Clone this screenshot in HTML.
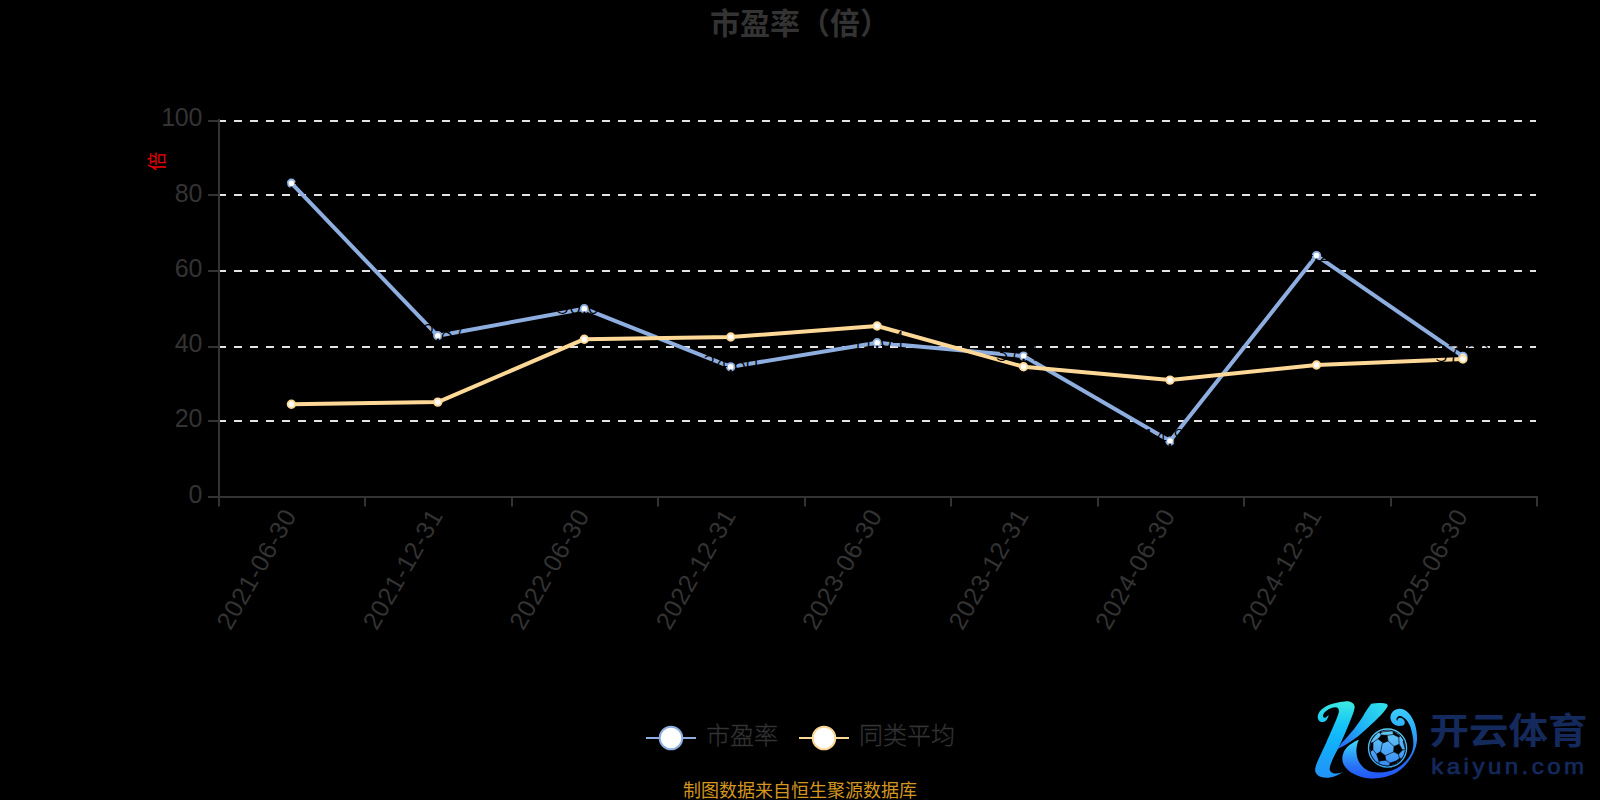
<!DOCTYPE html>
<html lang="zh-CN">
<head>
<meta charset="utf-8">
<title>市盈率（倍）</title>
<style>
html,body{margin:0;padding:0;background:#000;}
body{width:1600px;height:800px;overflow:hidden;position:relative;font-family:"Liberation Sans","Noto Sans CJK SC",sans-serif;}
svg{position:absolute;left:0;top:0;display:block;}
text{font-family:"Liberation Sans","Noto Sans CJK SC",sans-serif;}
.cjk{font-family:"Noto Sans CJK SC","Liberation Sans",sans-serif;}
</style>
</head>
<body>
<svg width="1600" height="800" viewBox="0 0 1600 800">
<defs>
<linearGradient id="gk" gradientUnits="userSpaceOnUse" x1="0" y1="701" x2="0" y2="778">
<stop offset="0" stop-color="#3debe0"/><stop offset="0.3" stop-color="#16c6f8"/><stop offset="0.55" stop-color="#12b0fa"/><stop offset="0.8" stop-color="#1c9ef9"/><stop offset="1" stop-color="#2292f9"/>
</linearGradient>
<linearGradient id="gleg" gradientUnits="userSpaceOnUse" x1="0" y1="739" x2="0" y2="778">
<stop offset="0" stop-color="#40dcfa"/><stop offset="0.35" stop-color="#30a8f8"/><stop offset="0.7" stop-color="#2872f6"/><stop offset="1" stop-color="#2258f5"/>
</linearGradient>
<linearGradient id="gcres" gradientUnits="userSpaceOnUse" x1="0" y1="709" x2="0" y2="778">
<stop offset="0" stop-color="#3ccdfb"/><stop offset="0.3" stop-color="#2daaf9"/><stop offset="0.55" stop-color="#2888f6"/><stop offset="0.8" stop-color="#2466f5"/><stop offset="1" stop-color="#2258f5"/>
</linearGradient>
<linearGradient id="garm" gradientUnits="userSpaceOnUse" x1="1384" y1="704" x2="1338" y2="749">
<stop offset="0" stop-color="#2fe0ea"/><stop offset="0.5" stop-color="#1fb2f6"/><stop offset="1" stop-color="#2a63f4"/>
</linearGradient>
<linearGradient id="gballz" gradientUnits="userSpaceOnUse" x1="0" y1="120" x2="0" y2="710">
<stop offset="0" stop-color="#66ccf8"/><stop offset="1" stop-color="#388af6"/>
</linearGradient>
<linearGradient id="gring" gradientUnits="userSpaceOnUse" x1="0" y1="90" x2="0" y2="745">
<stop offset="0" stop-color="#5ccaf9"/><stop offset="1" stop-color="#35a8f6"/>
</linearGradient>
</defs>
<rect x="0" y="0" width="1600" height="800" fill="#000000"/>
<text class="cjk" x="800" y="33.5" text-anchor="middle" font-size="30" font-weight="700" fill="#333333">市盈率（倍）</text>
<line x1="218" y1="121" x2="1536" y2="121" stroke="#e4e4e4" stroke-width="2" stroke-dasharray="8 8"/>
<line x1="218" y1="195" x2="1536" y2="195" stroke="#e4e4e4" stroke-width="2" stroke-dasharray="8 8"/>
<line x1="218" y1="271" x2="1536" y2="271" stroke="#e4e4e4" stroke-width="2" stroke-dasharray="8 8"/>
<line x1="218" y1="347" x2="1536" y2="347" stroke="#e4e4e4" stroke-width="2" stroke-dasharray="8 8"/>
<line x1="218" y1="421" x2="1536" y2="421" stroke="#e4e4e4" stroke-width="2" stroke-dasharray="8 8"/>
<text class="cjk" transform="translate(157,161.3) rotate(-90)" text-anchor="middle" font-size="19" fill="#e60000" dy="6.9">倍</text>
<polyline points="291.4,183.2 437.8,335.8 584.3,308.7 730.7,366.9 877.1,342.7 1023.6,356.1 1170.0,441.1 1316.5,255.6 1462.9,356.4" fill="none" stroke="#8eaee0" stroke-width="4" stroke-linejoin="bevel"/>
<polyline points="291.4,404.2 437.8,402.1 584.3,339.2 730.7,337.0 877.1,326.0 1023.6,366.8 1170.0,380.1 1316.5,365.0 1462.9,359.0" fill="none" stroke="#fdd897" stroke-width="4" stroke-linejoin="bevel"/>
<circle cx="291.4" cy="183.2" r="3.75" fill="#ffffff" stroke="#8eaee0" stroke-width="1.9"/>
<circle cx="437.8" cy="335.8" r="3.75" fill="#ffffff" stroke="#8eaee0" stroke-width="1.9"/>
<circle cx="584.3" cy="308.7" r="3.75" fill="#ffffff" stroke="#8eaee0" stroke-width="1.9"/>
<circle cx="730.7" cy="366.9" r="3.75" fill="#ffffff" stroke="#8eaee0" stroke-width="1.9"/>
<circle cx="877.1" cy="342.7" r="3.75" fill="#ffffff" stroke="#8eaee0" stroke-width="1.9"/>
<circle cx="1023.6" cy="356.1" r="3.75" fill="#ffffff" stroke="#8eaee0" stroke-width="1.9"/>
<circle cx="1170.0" cy="441.1" r="3.75" fill="#ffffff" stroke="#8eaee0" stroke-width="1.9"/>
<circle cx="1316.5" cy="255.6" r="3.75" fill="#ffffff" stroke="#8eaee0" stroke-width="1.9"/>
<circle cx="1462.9" cy="356.4" r="3.75" fill="#ffffff" stroke="#8eaee0" stroke-width="1.9"/>
<text class="cjk" x="291.4" y="188.6" text-anchor="middle" font-size="23" font-weight="300" fill="#000000">83.44</text>
<text class="cjk" x="437.8" y="341.1" text-anchor="middle" font-size="23" font-weight="300" fill="#000000">42.87</text>
<text class="cjk" x="584.3" y="314.0" text-anchor="middle" font-size="23" font-weight="300" fill="#000000">50.08</text>
<text class="cjk" x="730.7" y="372.2" text-anchor="middle" font-size="23" font-weight="300" fill="#000000">34.60</text>
<text class="cjk" x="877.1" y="348.0" text-anchor="middle" font-size="23" font-weight="300" fill="#000000">41.04</text>
<text class="cjk" x="1023.6" y="361.4" text-anchor="middle" font-size="23" font-weight="300" fill="#000000">37.47</text>
<text class="cjk" x="1170.0" y="446.4" text-anchor="middle" font-size="23" font-weight="300" fill="#000000">14.87</text>
<text class="cjk" x="1316.5" y="260.9" text-anchor="middle" font-size="23" font-weight="300" fill="#000000">64.20</text>
<text class="cjk" x="1462.9" y="361.7" text-anchor="middle" font-size="23" font-weight="300" fill="#000000">37.39</text>
<circle cx="291.4" cy="404.2" r="3.75" fill="#ffffff" stroke="#fdd897" stroke-width="1.9"/>
<circle cx="437.8" cy="402.1" r="3.75" fill="#ffffff" stroke="#fdd897" stroke-width="1.9"/>
<circle cx="584.3" cy="339.2" r="3.75" fill="#ffffff" stroke="#fdd897" stroke-width="1.9"/>
<circle cx="730.7" cy="337.0" r="3.75" fill="#ffffff" stroke="#fdd897" stroke-width="1.9"/>
<circle cx="877.1" cy="326.0" r="3.75" fill="#ffffff" stroke="#fdd897" stroke-width="1.9"/>
<circle cx="1023.6" cy="366.8" r="3.75" fill="#ffffff" stroke="#fdd897" stroke-width="1.9"/>
<circle cx="1170.0" cy="380.1" r="3.75" fill="#ffffff" stroke="#fdd897" stroke-width="1.9"/>
<circle cx="1316.5" cy="365.0" r="3.75" fill="#ffffff" stroke="#fdd897" stroke-width="1.9"/>
<circle cx="1462.9" cy="359.0" r="3.75" fill="#ffffff" stroke="#fdd897" stroke-width="1.9"/>
<line x1="219" y1="119" x2="219" y2="498" stroke="#333333" stroke-width="2"/>
<line x1="218" y1="497" x2="1538" y2="497" stroke="#333333" stroke-width="2"/>
<line x1="208" y1="121" x2="219" y2="121" stroke="#333333" stroke-width="2"/>
<line x1="208" y1="195" x2="219" y2="195" stroke="#333333" stroke-width="2"/>
<line x1="208" y1="271" x2="219" y2="271" stroke="#333333" stroke-width="2"/>
<line x1="208" y1="347" x2="219" y2="347" stroke="#333333" stroke-width="2"/>
<line x1="208" y1="421" x2="219" y2="421" stroke="#333333" stroke-width="2"/>
<line x1="208" y1="497" x2="219" y2="497" stroke="#333333" stroke-width="2"/>
<line x1="219" y1="497" x2="219" y2="506.6" stroke="#333333" stroke-width="2"/>
<line x1="365" y1="497" x2="365" y2="506.6" stroke="#333333" stroke-width="2"/>
<line x1="512" y1="497" x2="512" y2="506.6" stroke="#333333" stroke-width="2"/>
<line x1="658" y1="497" x2="658" y2="506.6" stroke="#333333" stroke-width="2"/>
<line x1="805" y1="497" x2="805" y2="506.6" stroke="#333333" stroke-width="2"/>
<line x1="951" y1="497" x2="951" y2="506.6" stroke="#333333" stroke-width="2"/>
<line x1="1098" y1="497" x2="1098" y2="506.6" stroke="#333333" stroke-width="2"/>
<line x1="1244" y1="497" x2="1244" y2="506.6" stroke="#333333" stroke-width="2"/>
<line x1="1391" y1="497" x2="1391" y2="506.6" stroke="#333333" stroke-width="2"/>
<line x1="1537" y1="497" x2="1537" y2="506.6" stroke="#333333" stroke-width="2"/>
<text x="202" y="125.6" text-anchor="end" font-size="25" letter-spacing="-0.3" fill="#333333">100</text>
<text x="202" y="201.7" text-anchor="end" font-size="25" letter-spacing="-0.3" fill="#333333">80</text>
<text x="202" y="276.9" text-anchor="end" font-size="25" letter-spacing="-0.3" fill="#333333">60</text>
<text x="202" y="352.1" text-anchor="end" font-size="25" letter-spacing="-0.3" fill="#333333">40</text>
<text x="202" y="427.3" text-anchor="end" font-size="25" letter-spacing="-0.3" fill="#333333">20</text>
<text x="202" y="502.5" text-anchor="end" font-size="25" letter-spacing="-0.3" fill="#333333">0</text>
<text transform="translate(289.9,511) rotate(-60)" text-anchor="end" font-size="25" letter-spacing="0.6" fill="#333333" dy="8.6">2021-06-30</text>
<text transform="translate(436.3,511) rotate(-60)" text-anchor="end" font-size="25" letter-spacing="0.6" fill="#333333" dy="8.6">2021-12-31</text>
<text transform="translate(582.8,511) rotate(-60)" text-anchor="end" font-size="25" letter-spacing="0.6" fill="#333333" dy="8.6">2022-06-30</text>
<text transform="translate(729.2,511) rotate(-60)" text-anchor="end" font-size="25" letter-spacing="0.6" fill="#333333" dy="8.6">2022-12-31</text>
<text transform="translate(875.6,511) rotate(-60)" text-anchor="end" font-size="25" letter-spacing="0.6" fill="#333333" dy="8.6">2023-06-30</text>
<text transform="translate(1022.1,511) rotate(-60)" text-anchor="end" font-size="25" letter-spacing="0.6" fill="#333333" dy="8.6">2023-12-31</text>
<text transform="translate(1168.5,511) rotate(-60)" text-anchor="end" font-size="25" letter-spacing="0.6" fill="#333333" dy="8.6">2024-06-30</text>
<text transform="translate(1315.0,511) rotate(-60)" text-anchor="end" font-size="25" letter-spacing="0.6" fill="#333333" dy="8.6">2024-12-31</text>
<text transform="translate(1461.4,511) rotate(-60)" text-anchor="end" font-size="25" letter-spacing="0.6" fill="#333333" dy="8.6">2025-06-30</text>
<line x1="646" y1="738" x2="696" y2="738" stroke="#8eaee0" stroke-width="2"/>
<circle cx="671" cy="738" r="11.3" fill="#ffffff" stroke="#8eaee0" stroke-width="2"/>
<text class="cjk" x="706" y="743.6" font-size="24" font-weight="300" stroke="#333" stroke-width="0.3" fill="#333333">市盈率</text>
<line x1="799" y1="738" x2="849" y2="738" stroke="#fdd897" stroke-width="2"/>
<circle cx="824" cy="738" r="11.3" fill="#ffffff" stroke="#fdd897" stroke-width="2"/>
<text class="cjk" x="859" y="743.6" font-size="24" font-weight="300" stroke="#333" stroke-width="0.3" fill="#333333">同类平均</text>
<text class="cjk" x="800" y="796.5" text-anchor="middle" font-size="18" fill="#d4961f">制图数据来自恒生聚源数据库</text>
<g id="logo">
<path d="M1371.2,703.8 C1375,703 1380,703 1384,703.3 C1387,703.5 1388.5,705 1387.3,707 C1384,713 1375,721 1368,727.5 C1360,735 1350,743.5 1337,749.2 L1342,742.4 C1350,734.5 1359,723 1363.4,715.4 C1366,711 1368.5,707.5 1371.2,703.8Z" fill="url(#garm)"/>
<path d="M1345,701.4 C1350,701 1355.3,703 1354.6,708 C1353.6,714 1346.5,730 1341,742.5 C1337,751 1331,761 1329.7,768 C1329.2,771.5 1332,773.5 1336,773.5 C1339,773.5 1341.5,772.8 1343.2,771.5 C1339,775 1332,778 1326,777.8 C1319,777.5 1314.5,774 1315.2,769 C1316,763 1321,754 1326.3,742.4 C1330,734 1336,721 1338.3,714 C1339.5,710.5 1339,707.3 1335.3,707.3 C1331,707.3 1326,710.5 1323.8,713.5 C1322,716 1323.5,718.3 1325.3,717.7 C1326.5,717.3 1327.5,715.8 1328.6,714.9 C1328.3,718 1326,722 1322.4,722 C1319,722 1317.2,719 1317.9,715.5 C1319,710 1326,705.5 1332.5,703.8 C1337,702.3 1341,701.4 1345,701.4Z" fill="url(#gk)"/>
<clipPath id="cl"><rect x="1330" y="730" width="42" height="60"/></clipPath>
<clipPath id="cr"><rect x="1371.5" y="700" width="60" height="90"/></clipPath>
<path d="M1358.9,739.7 C1352,742.5 1346.5,746.5 1344,751.5 C1341.5,757 1341.8,762 1344.5,766 C1348.5,772.5 1358,777 1368,778.3 C1381,779.5 1394,775.5 1402,768.5 C1410,761.5 1416.5,750 1417,740 C1417.3,730 1415,720 1408.5,713 C1405.5,710 1402.5,708.7 1399.5,708.8 C1394.5,709 1390.3,712.8 1390.4,717.6 C1390.5,722.3 1394.5,726 1399.2,725.9 C1401,725.9 1402.7,725.6 1403.9,725 C1405.5,724.5 1408,724.3 1409.3,724.8 C1410.5,727 1411.5,730 1412,733 C1413.5,739 1414,745 1412.5,750 C1410.5,757 1404,764.5 1396.6,768.4 C1389,772.3 1379,773.5 1371.2,771.7 C1364,770 1358.5,763.5 1356.9,756 C1355.8,750.5 1356.5,744.5 1358.9,739.7Z" fill="url(#gleg)" clip-path="url(#cl)"/>
<path d="M1358.9,739.7 C1352,742.5 1346.5,746.5 1344,751.5 C1341.5,757 1341.8,762 1344.5,766 C1348.5,772.5 1358,777 1368,778.3 C1381,779.5 1394,775.5 1402,768.5 C1410,761.5 1416.5,750 1417,740 C1417.3,730 1415,720 1408.5,713 C1405.5,710 1402.5,708.7 1399.5,708.8 C1394.5,709 1390.3,712.8 1390.4,717.6 C1390.5,722.3 1394.5,726 1399.2,725.9 C1401,725.9 1402.7,725.6 1403.9,725 C1405.5,724.5 1408,724.3 1409.3,724.8 C1410.5,727 1411.5,730 1412,733 C1413.5,739 1414,745 1412.5,750 C1410.5,757 1404,764.5 1396.6,768.4 C1389,772.3 1379,773.5 1371.2,771.7 C1364,770 1358.5,763.5 1356.9,756 C1355.8,750.5 1356.5,744.5 1358.9,739.7Z" fill="url(#gcres)" clip-path="url(#cr)"/>
<path d="M1410.5,728 C1410,726.5 1409.6,725.2 1409,724 C1408.2,722.3 1407.2,720.8 1406,719.5 C1405.1,718.5 1404.1,717.7 1403,717.2 C1402,716.6 1401,716.2 1400,716.1 C1399,716 1398,716.5 1397.4,717.2 C1396.8,717.8 1396.4,718.5 1396.4,719.1 C1396.4,719.9 1396.8,720.6 1397.2,721 C1397.3,720 1397.6,719.2 1398.1,718.7 C1398.6,718.2 1399.3,717.8 1400,717.8 C1401,717.8 1401.9,718.2 1402.6,718.7 C1403.3,719.2 1403.9,719.9 1404.3,720.6 C1404.6,721.2 1404.7,721.9 1404.7,722.5 C1404.7,723.3 1404.5,724 1404.1,724.7 L1403.9,726.5 L1406,730Z" fill="#000"/>
<g transform="translate(1364,723) scale(0.06)">
<circle cx="392.5" cy="417.5" r="317" fill="none" stroke="url(#gring)" stroke-width="23"/>
<clipPath id="bc"><circle cx="392.5" cy="417.5" r="292"/></clipPath>
<circle cx="392.5" cy="417.5" r="292" fill="url(#gballz)"/>
<g clip-path="url(#bc)" fill="#000" stroke="#000" stroke-width="10" stroke-linejoin="round">
<polygon points="290,200 385,205 400,300 320,332 235,265"/>
<polygon points="500,390 585,355 640,450 575,520 495,480"/>
<polygon points="270,480 350,540 365,620 250,635 210,520"/>
<polygon points="480,130 600,215 580,238 490,192"/>
<polygon points="90,340 150,325 150,445 100,480"/>
<polygon points="545,628 590,590 650,590 600,680"/>
<polygon points="435,668 545,630 560,700 420,720"/>
<polygon points="250,150 272,172 300,150 290,110"/>
<polygon points="690,440 650,300 700,300 720,440"/>
</g>
<g clip-path="url(#bc)" fill="none" stroke="#000" stroke-width="11" stroke-linecap="round">
<line x1="385" y1="205" x2="490" y2="192"/>
<line x1="400" y1="300" x2="500" y2="390"/>
<line x1="305" y1="338" x2="278" y2="478"/>
<line x1="235" y1="265" x2="150" y2="325"/>
<line x1="290" y1="200" x2="262" y2="162"/>
<line x1="585" y1="355" x2="580" y2="238"/>
<line x1="640" y1="450" x2="700" y2="442"/>
<line x1="575" y1="520" x2="590" y2="590"/>
<line x1="495" y1="482" x2="358" y2="543"/>
<line x1="365" y1="620" x2="437" y2="668"/>
<line x1="250" y1="635" x2="250" y2="700"/>
<line x1="210" y1="520" x2="150" y2="445"/>
<line x1="300" y1="150" x2="480" y2="130"/>
</g>
</g>
<text class="cjk" x="1429.4" y="744.4" font-size="35.8" font-weight="700" fill="#14295c" textLength="158" lengthAdjust="spacingAndGlyphs">开云体育</text>
<text transform="translate(1431.3,773.7) scale(1.12,1)" x="0" y="0" font-size="21.5" font-weight="400" fill="#14295c" stroke="#14295c" stroke-width="0.7" textLength="136.4" lengthAdjust="spacing">kaiyun.com</text>
</g>
</svg>
</body>
</html>
